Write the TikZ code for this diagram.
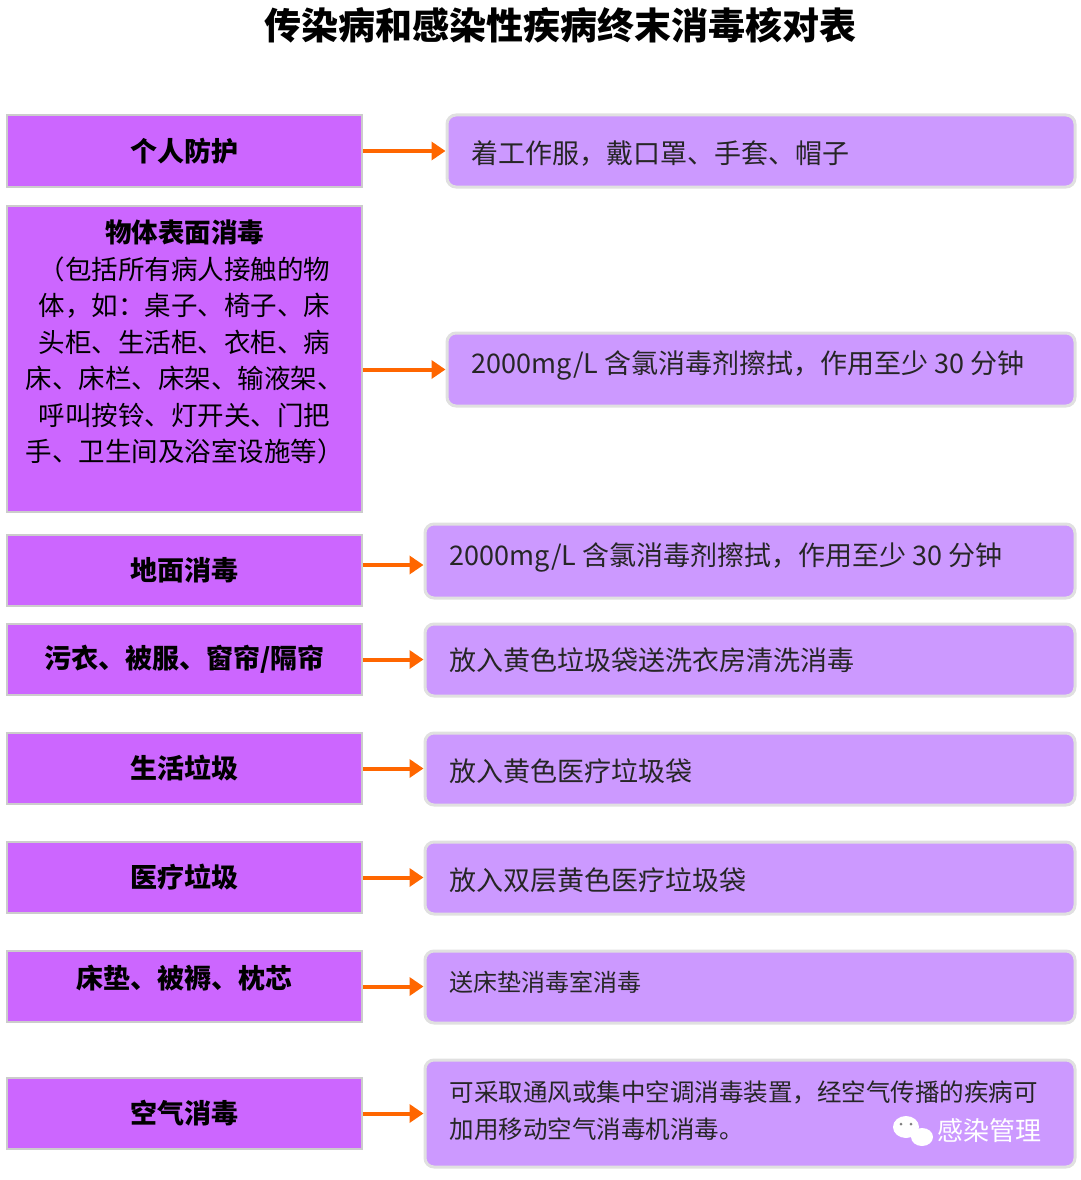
\documentclass[tikz,border=0pt]{standalone}
\usepackage{fontspec}
\usetikzlibrary{arrows.meta}
\setmainfont{Noto Sans CJK SC}
\newfontfamily\cjk{Noto Sans CJK SC}
\definecolor{lbox}{HTML}{CC66FF}
\definecolor{rbox}{HTML}{CC99FF}
\definecolor{arr}{HTML}{FF6600}
\begin{document}
\begin{tikzpicture}[x=1pt,y=-1pt,
  lb/.style={draw=black!20,line width=1.5pt,fill=lbox,font=\fontsize{27}{32}\selectfont\bfseries},
  rb/.style={draw=black!12,line width=3pt,fill=rbox,rounded corners=9pt},
  rt/.style={anchor=west,font=\fontsize{27}{37}\selectfont,text=black!85,align=left},
  ar/.style={draw=arr,line width=4pt,-{Triangle[length=14pt,width=18pt]}}]
\useasboundingbox (0,0) rectangle (1080,1180);
\node[font=\fontsize{37}{40}\selectfont\bfseries] (title) at (560,25) {传染病和感染性疾病终末消毒核对表};
\newcommand\lrow[4]{\node[lb,minimum width=355pt,minimum height=#3pt,inner sep=0pt] (#1) at (184.5,#2) {#4};}
% left boxes
\lrow{l1}{151}{72}{个人防护}
\node[lb,minimum width=355pt,minimum height=306pt,inner sep=0pt] (l2) at (184.5,359) {};
\node[font=\fontsize{26.5}{36.5}\selectfont,align=center] (l2t) at (184.5,342) {\textbf{物体表面消毒}\\（包括所有病人接触的物\\体，如：桌子、椅子、床\\头柜、生活柜、衣柜、病\\床、床栏、床架、输液架、\\呼叫按铃、灯开关、门把\\手、卫生间及浴室设施等）};
\lrow{l3}{570.5}{71}{地面消毒}
\lrow{l4}{659.5}{71}{污衣、被服、窗帘/隔帘}
\lrow{l5}{768.5}{71}{生活垃圾}
\lrow{l6}{877.5}{71}{医疗垃圾}
\node[lb,minimum width=355pt,minimum height=71pt,inner sep=0pt] (l7) at (184.5,986.5) {};
\node[font=\fontsize{27}{32}\selectfont\bfseries] (l7t) at (184.5,978) {床垫、被褥、枕芯};
\lrow{l8}{1113.5}{71}{空气消毒}
% right boxes
\node[rb,minimum width=628pt,minimum height=72pt] (r1) at (761,151) {};
\node[rt] (r1t) at (468,154) {着工作服，戴口罩、手套、帽子};
\node[rb,minimum width=628pt,minimum height=73pt] (r2) at (761,369.5) {};
\node[rt] (r2t) at (468,365) {2000mg/L 含氯消毒剂擦拭，作用至少 30 分钟};
\node[rb,minimum width=650pt,minimum height=74pt] (r3) at (750,561) {};
\node[rt] (r3t) at (446,557) {2000mg/L 含氯消毒剂擦拭，作用至少 30 分钟};
\node[rb,minimum width=650pt,minimum height=72pt] (r4) at (750,660) {};
\node[rt] (r4t) at (446,660) {放入黄色垃圾袋送洗衣房清洗消毒};
\node[rb,minimum width=650pt,minimum height=72pt] (r5) at (750,769) {};
\node[rt] (r5t) at (446,771) {放入黄色医疗垃圾袋};
\node[rb,minimum width=650pt,minimum height=72pt] (r6) at (750,878) {};
\node[rt] (r6t) at (446,880) {放入双层黄色医疗垃圾袋};
\node[rb,minimum width=650pt,minimum height=72pt] (r7) at (750,987) {};
\node[rt,font=\fontsize{24}{30}\selectfont] (r7t) at (446,982) {送床垫消毒室消毒};
\node[rb,minimum width=650pt,minimum height=107pt] (r8) at (750,1113.5) {};
\node[rt,font=\fontsize{24.5}{37}\selectfont] (r8t) at (446,1111) {可采取通风或集中空调消毒装置，经空气传播的疾病可\\加用移动空气消毒机消毒。};
\node[font=\fontsize{26}{30}\selectfont,text=white,anchor=west] (wm) at (934,1131) {感染管理};
\fill[white] (906,1127) ellipse (13pt and 11pt);
\fill[white] (922,1137) ellipse (11pt and 9pt);
\fill[black!50] (901,1124) circle (1.5pt) (911,1124) circle (1.5pt);
% arrows
\draw[ar] (l1.east) -- (r1.west);
\draw[ar] (l2.east|-r2.west) -- (r2.west);
\draw[ar] (l3.east|-0,565) -- (r3.west|-0,565);
\draw[ar] (l4.east) -- (r4.west|-l4.east);
\draw[ar] (l5.east) -- (r5.west|-l5.east);
\draw[ar] (l6.east) -- (r6.west|-l6.east);
\draw[ar] (l7.east) -- (r7.west|-l7.east);
\draw[ar] (l8.east) -- (r8.west|-l8.east);
\end{tikzpicture}
\end{document}
